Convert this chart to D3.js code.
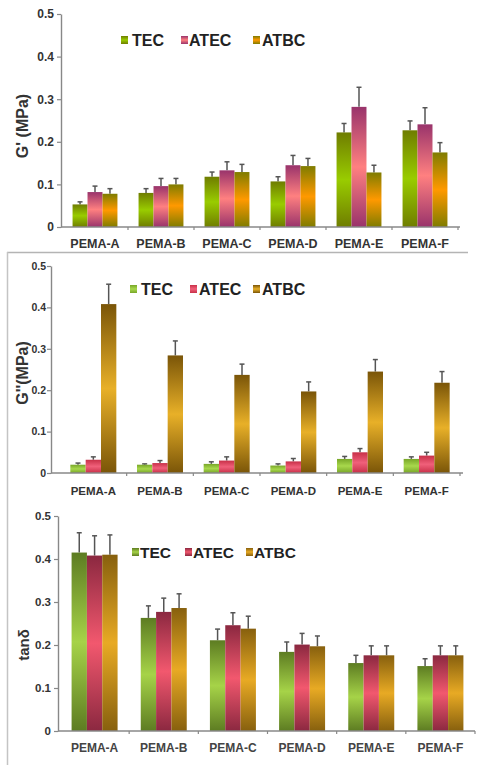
<!DOCTYPE html>
<html>
<head>
<meta charset="utf-8">
<script src="https://cdn.jsdelivr.net/npm/d3@7"></script>
<style>
  body { margin: 0; background: #fff; }
  text { font-family: "Liberation Sans", Arial, sans-serif; font-weight: bold; }
</style>
</head>
<body>
<div id="chart"></div>
<script>
// shared
const categories = ["PEMA-A", "PEMA-B", "PEMA-C", "PEMA-D", "PEMA-E", "PEMA-F"];
const series = ["TEC", "ATEC", "ATBC"];
const yTicks = [0, 0.1, 0.2, 0.3, 0.4, 0.5];

// G' (MPa)
const gp_TEC = [0.053, 0.080, 0.118, 0.107, 0.222, 0.227];
const gp_ATEC = [0.082, 0.096, 0.133, 0.145, 0.282, 0.241];
const gp_ATBC = [0.078, 0.100, 0.129, 0.143, 0.128, 0.175];
const gp_TEC_err = [0.006, 0.010, 0.011, 0.011, 0.021, 0.022];
const gp_ATEC_err = [0.014, 0.018, 0.020, 0.023, 0.046, 0.039];
const gp_ATBC_err = [0.012, 0.014, 0.018, 0.018, 0.017, 0.023];

// G'' (MPa)
const gpp_TEC = [0.020, 0.020, 0.022, 0.018, 0.034, 0.034];
const gpp_ATEC = [0.032, 0.024, 0.030, 0.028, 0.050, 0.042];
const gpp_ATBC = [0.408, 0.284, 0.237, 0.197, 0.245, 0.218];
const gpp_TEC_err = [0.004, 0.002, 0.005, 0.004, 0.006, 0.005];
const gpp_ATEC_err = [0.007, 0.006, 0.009, 0.007, 0.009, 0.008];
const gpp_ATBC_err = [0.048, 0.035, 0.026, 0.023, 0.029, 0.027];

// tan delta
const tan_TEC = [0.415, 0.263, 0.211, 0.184, 0.158, 0.151];
const tan_ATEC = [0.408, 0.277, 0.246, 0.201, 0.176, 0.176];
const tan_ATBC = [0.410, 0.286, 0.238, 0.197, 0.176, 0.176];
const tan_TEC_err = [0.046, 0.028, 0.026, 0.023, 0.018, 0.017];
const tan_ATEC_err = [0.046, 0.032, 0.029, 0.026, 0.022, 0.022];
const tan_ATBC_err = [0.046, 0.033, 0.029, 0.024, 0.022, 0.022];

const width = 477, height = 765;
const svg = d3.select("#chart").append("svg")
    .attr("width", width)
    .attr("height", height);
const defs = svg.append("defs");

// frame lines between the panels
svg.append("line").attr("x1", 7).attr("x2", 468).attr("y1", 252.5).attr("y2", 252.5)
    .attr("stroke", "#b4b4b4").attr("stroke-width", 1.5);
svg.append("line").attr("x1", 7.5).attr("x2", 7.5).attr("y1", 252).attr("y2", 765)
    .attr("stroke", "#c4c4c4").attr("stroke-width", 1.5);

function gradient(id, dark, light) {
    const g = defs.append("linearGradient").attr("id", id)
        .attr("x1", 0).attr("y1", 0).attr("x2", 0).attr("y2", 1);
    g.append("stop").attr("offset", "0%").attr("stop-color", dark);
    g.append("stop").attr("offset", "50%").attr("stop-color", light);
    g.append("stop").attr("offset", "100%").attr("stop-color", dark);
}

function drawPanel(o) {
    const g = svg.append("g");
    const y = d3.scaleLinear().domain([0, 0.5]).range([o.y0, o.yTop]);
    const x0 = d3.scaleBand().domain(categories).range([o.bandStart, o.bandEnd]);
    const groupW = x0.bandwidth() * o.groupFrac;
    const x1 = d3.scaleBand().domain(series).range([0, groupW]);

    series.forEach((s, i) => gradient(o.id + s, o.dark[i], o.light[i]));

    const rows = [];
    categories.forEach((c, ci) => {
        series.forEach((s, si) => {
            rows.push({ cat: c, s: s, v: o.values[si][ci], e: o.errors[si][ci] });
        });
    });

    // error bars (drawn first, bars sit on top)
    const eb = g.append("g").attr("stroke", "#555").attr("stroke-width", 1.5);
    rows.forEach((d) => {
        const cx = x0(d.cat) + (x0.bandwidth() - groupW) / 2 + x1(d.s) + x1.bandwidth() / 2;
        eb.append("line").attr("x1", cx).attr("x2", cx).attr("y1", y(d.v)).attr("y2", y(d.v + d.e));
        eb.append("line").attr("x1", cx - 2.5).attr("x2", cx + 2.5).attr("y1", y(d.v + d.e)).attr("y2", y(d.v + d.e));
    });

    g.append("g").selectAll("rect")
        .data(rows)
        .join("rect")
        .attr("x", (d) => x0(d.cat) + (x0.bandwidth() - groupW) / 2 + x1(d.s))
        .attr("y", (d) => y(d.v))
        .attr("width", x1.bandwidth())
        .attr("height", (d) => y(0) - y(d.v))
        .attr("fill", (d) => "url(#" + o.id + d.s + ")");

    // y axis
    const ya = g.append("g")
        .attr("transform", "translate(" + o.axisX + ",0)")
        .call(d3.axisLeft(y).tickValues(yTicks).tickSize(4).tickSizeOuter(0).tickPadding(o.tickPad)
            .tickFormat((d) => (d === 0 ? "0" : d.toFixed(1))));
    ya.select(".domain").attr("stroke", "#888").attr("stroke-width", 1.4);
    ya.selectAll(".tick line").attr("stroke", "#888").attr("stroke-width", 1.2);
    ya.selectAll(".tick text").attr("font-size", o.tickSize).attr("fill", "#333")
        .attr("font-family", "Liberation Sans, Arial, sans-serif").attr("font-weight", "bold");

    // x axis
    g.append("line").attr("x1", o.axisX).attr("x2", o.axisEnd)
        .attr("y1", o.y0).attr("y2", o.y0).attr("stroke", "#888").attr("stroke-width", 1.4);
    const bounds = categories.slice(1).map((c) => x0(c)).concat([o.bandEnd]);
    g.append("g").selectAll("line").data(bounds).join("line")
        .attr("x1", (d) => d).attr("x2", (d) => d)
        .attr("y1", o.y0).attr("y2", o.y0 + 3)
        .attr("stroke", "#888").attr("stroke-width", 1.2);
    g.append("g").selectAll("text").data(categories).join("text")
        .attr("x", (d) => x0(d) + x0.bandwidth() / 2)
        .attr("y", o.labelY)
        .attr("text-anchor", "middle")
        .attr("dominant-baseline", "central")
        .attr("font-size", o.labelSize)
        .attr("fill", o.labelColor)
        .text((d) => d);

    // axis title
    g.append("text")
        .attr("transform", "translate(" + o.titleX + "," + o.titleY + ") rotate(-90)")
        .attr("text-anchor", "middle")
        .attr("dominant-baseline", "central")
        .attr("font-size", o.titleSize)
        .attr("fill", "#333")
        .text(o.title);

    // legend
    const lg = g.append("g");
    series.forEach((s, i) => {
        lg.append("rect")
            .attr("x", o.legendSq[i]).attr("y", o.legendY - 4)
            .attr("width", 7).attr("height", 8)
            .attr("fill", "url(#" + o.id + s + ")");
        lg.append("text")
            .attr("x", o.legendTx[i]).attr("y", o.legendY)
            .attr("dominant-baseline", "central")
            .attr("font-size", o.legendSize)
            .attr("fill", "#222")
            .text(s);
    });
}

drawPanel({
    id: "p1",
    values: [gp_TEC, gp_ATEC, gp_ATBC],
    errors: [gp_TEC_err, gp_ATEC_err, gp_ATBC_err],
    dark: ["#6f7d00", "#99336b", "#7f7c00"],
    light: ["#99cc00", "#ff8080", "#ff9900"],
    y0: 227, yTop: 14, axisX: 61, axisEnd: 460,
    bandStart: 62, bandEnd: 458, groupFrac: 0.68,
    labelY: 244, labelColor: "#333", labelSize: 12.5, tickSize: 12, tickPad: 3,
    title: "G' (MPa)", titleX: 22, titleY: 126, titleSize: 16,
    legendY: 40, legendSq: [121, 181, 253], legendTx: [132, 189, 262], legendSize: 16
});

drawPanel({
    id: "p2",
    values: [gpp_TEC, gpp_ATEC, gpp_ATBC],
    errors: [gpp_TEC_err, gpp_ATEC_err, gpp_ATBC_err],
    dark: ["#78a628", "#c83048", "#7a5508"],
    light: ["#a8d84c", "#f0607a", "#e8b028"],
    y0: 473, yTop: 266, axisX: 51, axisEnd: 463,
    bandStart: 60, bandEnd: 460, groupFrac: 0.69,
    labelY: 491, labelColor: "#333", labelSize: 11.5, tickSize: 10.5, tickPad: 1,
    title: "G''(MPa)", titleX: 22, titleY: 373, titleSize: 16,
    legendY: 289, legendSq: [130, 190, 253], legendTx: [141, 199, 262], legendSize: 16
});

drawPanel({
    id: "p3",
    values: [tan_TEC, tan_ATEC, tan_ATBC],
    errors: [tan_TEC_err, tan_ATEC_err, tan_ATBC_err],
    dark: ["#5d7c22", "#8b2840", "#87600e"],
    light: ["#a6d348", "#f2586e", "#e8aa24"],
    y0: 731, yTop: 516, axisX: 58, axisEnd: 475,
    bandStart: 60, bandEnd: 475, groupFrac: 0.665,
    labelY: 748, labelColor: "#444", labelSize: 12, tickSize: 11.5, tickPad: 3,
    title: "tanδ", titleX: 23, titleY: 645, titleSize: 15,
    legendY: 552, legendSq: [132, 185, 246], legendTx: [140, 193, 254], legendSize: 15.5
});
</script>
</body>
</html>
